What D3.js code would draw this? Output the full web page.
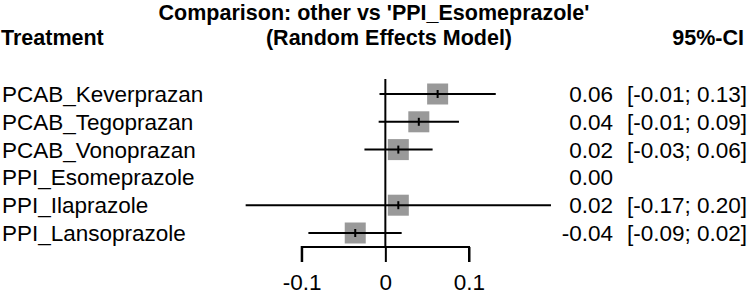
<!DOCTYPE html>
<html><head><meta charset="utf-8">
<script src="https://cdn.jsdelivr.net/npm/d3@7"></script>
<style>body{margin:0;background:#fff}svg{display:block}text{font-family:"Liberation Sans",Arial,sans-serif;fill:#000}</style>
</head><body><svg id="c" width="750" height="300"></svg>
<script>
const treatments = ["PCAB_Keverprazan","PCAB_Tegoprazan","PCAB_Vonoprazan","PPI_Esomeprazole","PPI_Ilaprazole","PPI_Lansoprazole"];
const estimates = [0.0625, 0.040, 0.0155, 0, 0.0155, -0.036];
const lowerCI = [-0.007, -0.008, -0.025, null, -0.167, -0.092];
const upperCI = [0.132, 0.088, 0.0565, null, 0.198, 0.0195];
const estLabels = ["0.06","0.04","0.02","0.00","0.02","-0.04"];
const ciLabels = ["[-0.01; 0.13]","[-0.01; 0.09]","[-0.03; 0.06]","","[-0.17; 0.20]","[-0.09; 0.02]"];
const tickValues = [-0.1, 0, 0.1];
const tickLabels = ["-0.1","0","0.1"];

const svg = d3.select("#c");
const x = d3.scaleLinear().domain([-0.1, 0.1]).range([301.7, 469]);
const y = d3.scalePoint().domain(treatments).range([94, 233]);
const fs = 22.5, fb = 21.5;

// headers
svg.append("text").attr("x", 374).attr("y", 20).attr("text-anchor","middle")
  .attr("font-weight","bold").attr("font-size", fb).text("Comparison: other vs 'PPI_Esomeprazole'");
svg.append("text").attr("x", 389).attr("y", 45).attr("text-anchor","middle")
  .attr("font-weight","bold").attr("font-size", fb).text("(Random Effects Model)");
svg.append("text").attr("x", 1).attr("y", 45).attr("font-weight","bold").attr("font-size", fb).text("Treatment");
svg.append("text").attr("x", 744).attr("y", 45).attr("text-anchor","end").attr("font-weight","bold").attr("font-size", fb).text("95%-CI");

// reference line
svg.append("line").attr("x1", x(0)).attr("x2", x(0)).attr("y1", 79).attr("y2", 247)
  .attr("stroke","#000").attr("stroke-width",2);

const rows = treatments.map((t,i)=>({t, est: estimates[i], lo: lowerCI[i], hi: upperCI[i], el: estLabels[i], cl: ciLabels[i]}));
const g = svg.append("g");
rows.forEach(d=>{
  const cy = y(d.t);
  g.append("text").attr("x", 2).attr("y", cy + 8).attr("font-size", fs).text(d.t);
  g.append("text").attr("x", 613).attr("y", cy + 8).attr("text-anchor","end").attr("font-size", fs).text(d.el);
  if (d.cl) g.append("text").attr("x", 747).attr("y", cy + 8).attr("text-anchor","end").attr("font-size", fs).text(d.cl);
  if (d.lo !== null) {
    g.append("rect").attr("x", x(d.est) - 10.5).attr("y", cy - 10.5).attr("width", 21).attr("height", 21).attr("fill", "#999");
    g.append("line").attr("x1", x(d.lo)).attr("x2", x(d.hi)).attr("y1", cy).attr("y2", cy).attr("stroke","#000").attr("stroke-width",2);
    g.append("line").attr("x1", x(d.est)).attr("x2", x(d.est)).attr("y1", cy - 4).attr("y2", cy + 4).attr("stroke","#000").attr("stroke-width",2);
  }
});

// axis
const axis = d3.axisBottom(x).tickValues(tickValues).tickSize(15).tickFormat((d,i)=>tickLabels[i]);
const ag = svg.append("g").attr("transform","translate(0,247)").call(axis);
ag.select(".domain").attr("d", `M${x(-0.1)},15V0H${x(0.1)}V15`).attr("stroke","#000").attr("stroke-width",2);
ag.selectAll(".tick line").attr("stroke","#000").attr("stroke-width",2);
ag.selectAll(".tick text").attr("font-size", fs).attr("font-family","Liberation Sans, Arial, sans-serif").attr("fill","#000").attr("y", 27).attr("dy","0.71em");
</script></body></html>
